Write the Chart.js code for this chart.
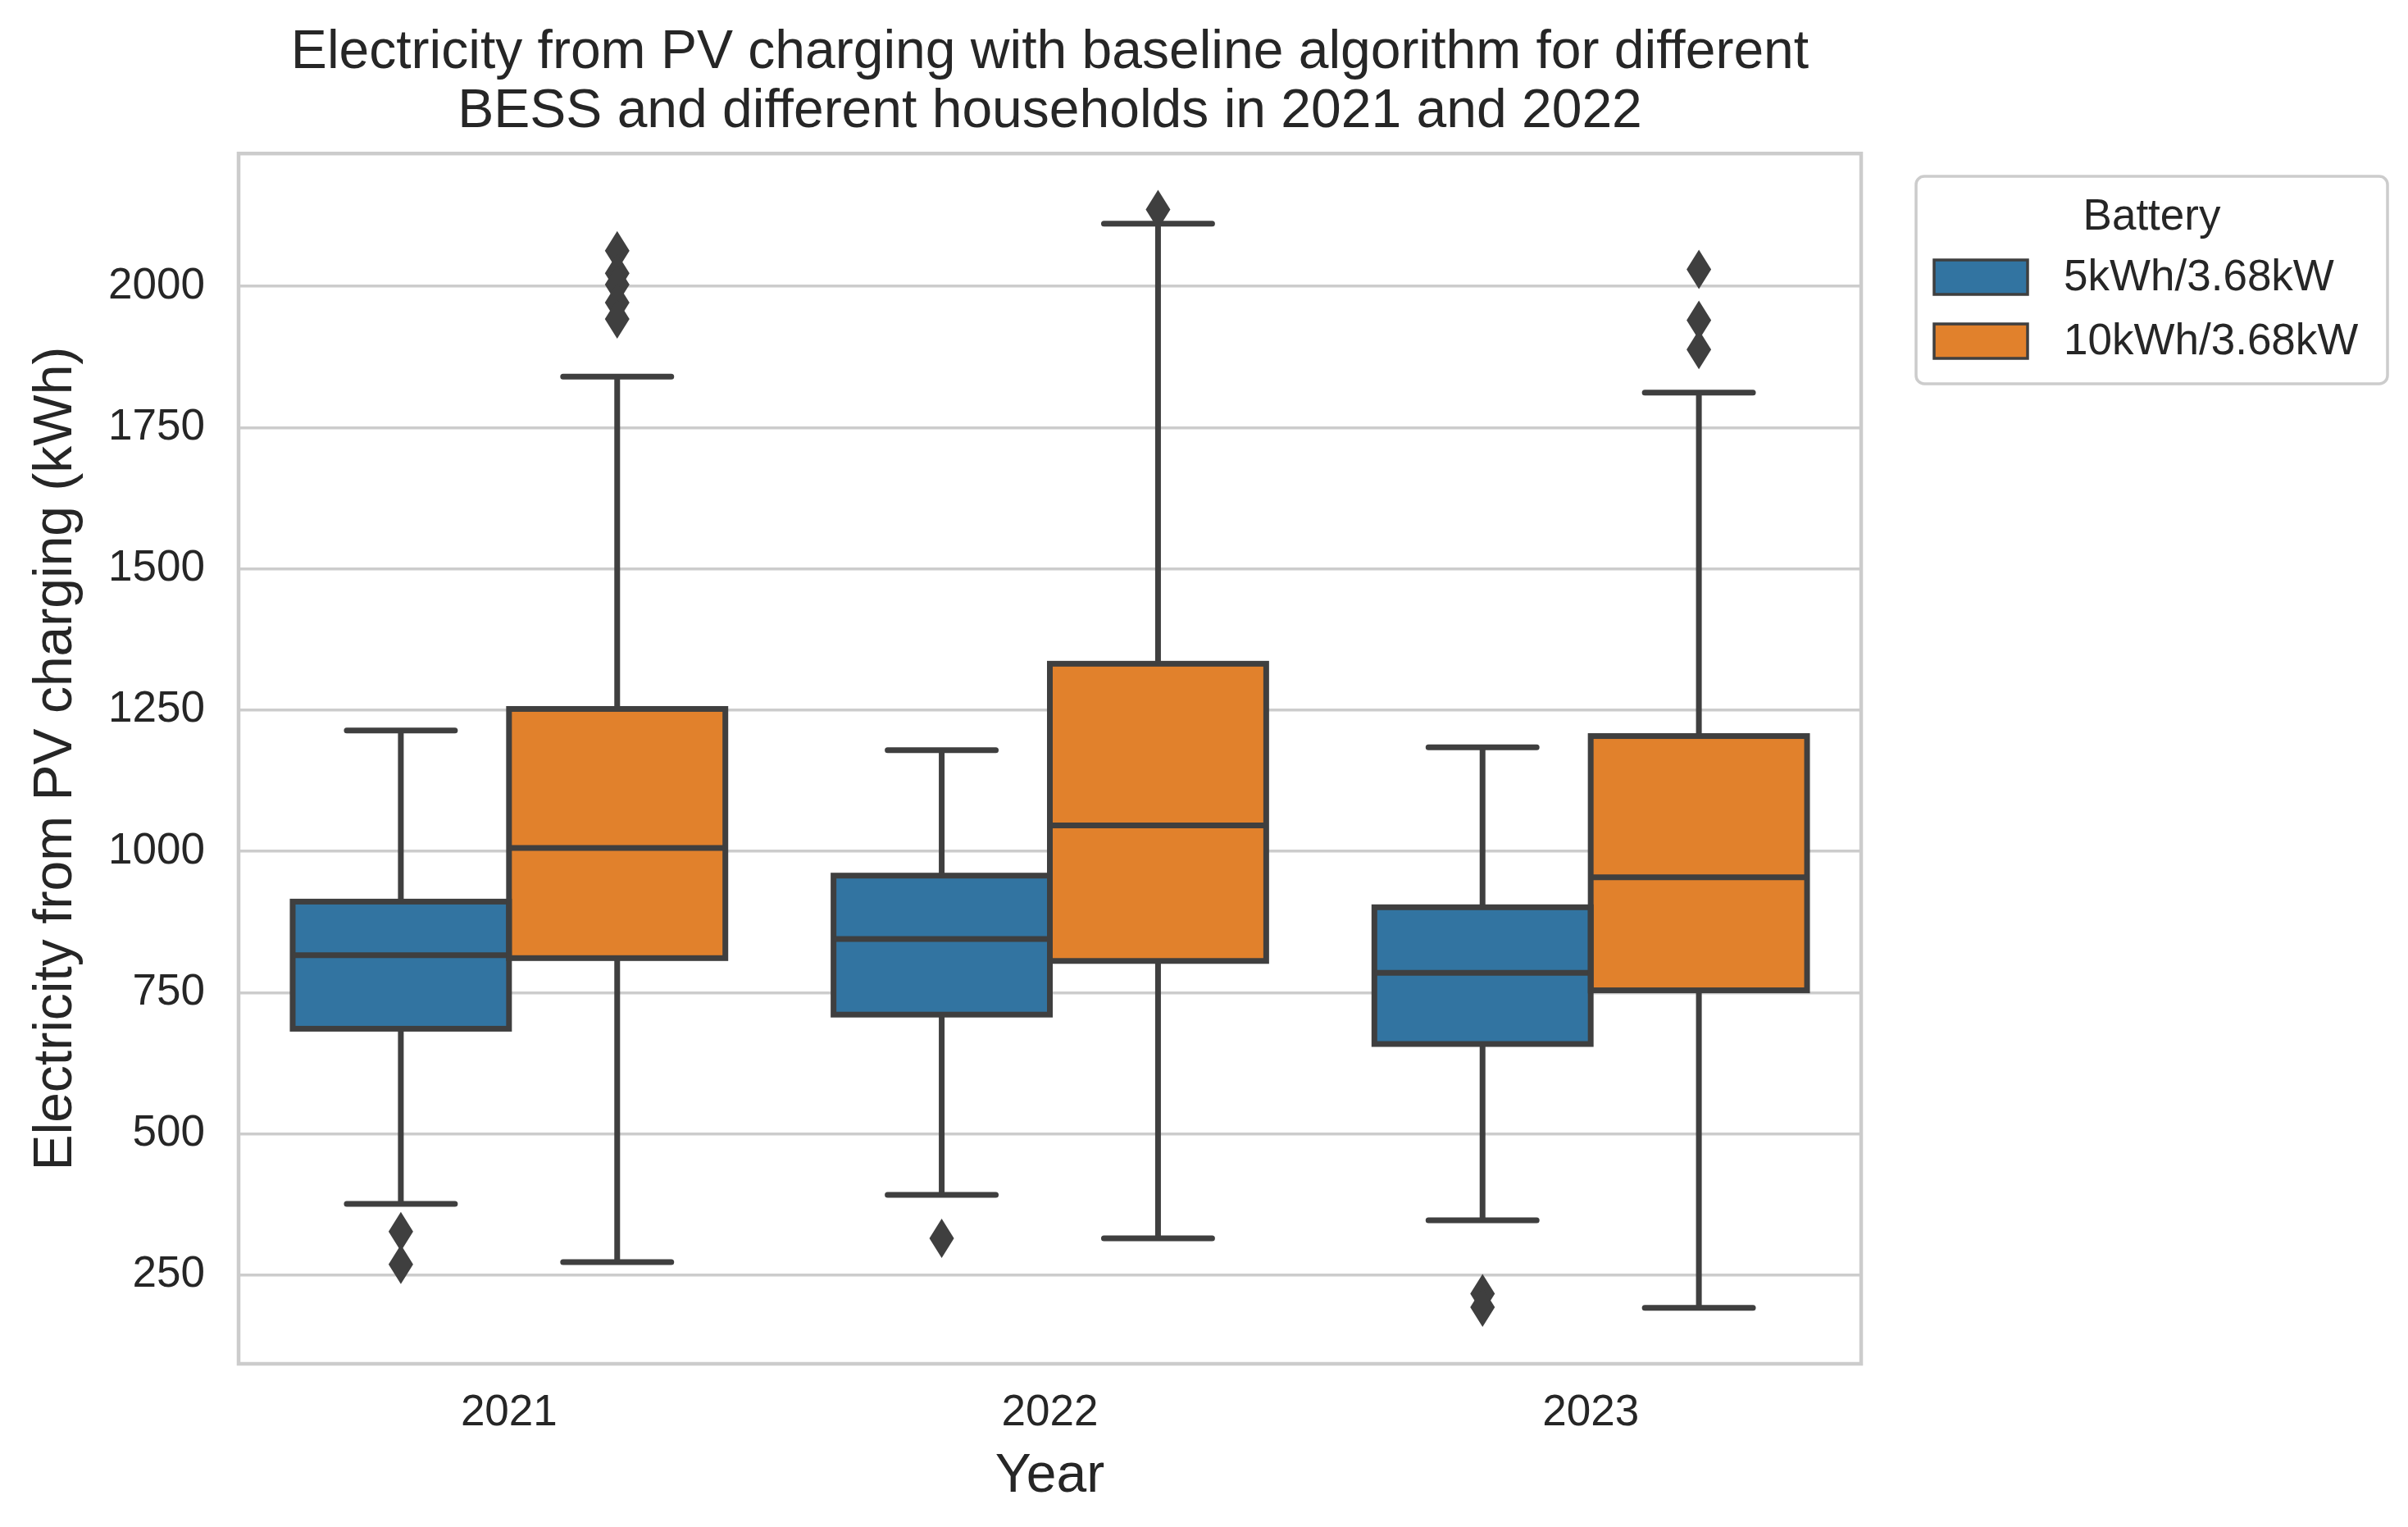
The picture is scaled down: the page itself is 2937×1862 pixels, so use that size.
<!DOCTYPE html>
<html>
<head>
<meta charset="utf-8">
<script src="https://cdn.jsdelivr.net/npm/chart.js@4.4.1/dist/chart.umd.min.js"></script>
<style>
  html, body { margin: 0; padding: 0; background: #ffffff; }
  #wrap { width: 2937px; height: 1862px; }
</style>
</head>
<body>
<div id="wrap"><canvas id="cv" width="2937" height="1862"></canvas></div>
<script>

const years = ["2021", "2022", "2023"];
const batteries = ["5kWh/3.68kW", "10kWh/3.68kW"];

// 5kWh/3.68kW
const small_lo = [376, 392, 347];
const small_q1 = [686, 711, 659];
const small_med = [816, 845, 785];
const small_q3 = [911, 957, 901];
const small_hi = [1214, 1179, 1184];
const small_out = [[327, 269], [315], [217, 193]];

// 10kWh/3.68kW
const big_lo = [273, 315, 192];
const big_q1 = [811, 806, 754];
const big_med = [1006, 1046, 954];
const big_q3 = [1252, 1332, 1204];
const big_hi = [1840, 2111, 1812];
const big_out = [[2063, 2023, 2003, 1971, 1942], [2136], [2030, 1940, 1888]];

const yTicks = [250, 500, 750, 1000, 1250, 1500, 1750, 2000];

const colors = ["#3274a1", "#e1812c"];
const edge = "#3f3f3f";
const textColor = "#262626";
const gridColor = "#cccccc";

const stats = [
    { lo: small_lo, q1: small_q1, med: small_med, q3: small_q3, hi: small_hi, out: small_out },
    { lo: big_lo, q1: big_q1, med: big_med, q3: big_q3, hi: big_hi, out: big_out }
];

function boxes(s) {
    return s.q1.map((v, i) => [v, s.q3[i]]);
}

const boxPlugin = {
    id: "boxparts",
    beforeDatasetsDraw(chart) {
        // whiskers and caps, under the boxes
        const ctx = chart.ctx;
        const y = chart.scales.y;
        ctx.save();
        ctx.strokeStyle = edge;
        ctx.lineWidth = 7;
        ctx.lineCap = "round";
        stats.forEach((s, d) => {
            chart.getDatasetMeta(d).data.forEach((bar, i) => {
                const x = bar.x;
                const half = bar.width / 4;
                ctx.beginPath();
                ctx.moveTo(x, y.getPixelForValue(s.lo[i]));
                ctx.lineTo(x, y.getPixelForValue(s.q1[i]));
                ctx.moveTo(x, y.getPixelForValue(s.q3[i]));
                ctx.lineTo(x, y.getPixelForValue(s.hi[i]));
                ctx.moveTo(x - half, y.getPixelForValue(s.lo[i]));
                ctx.lineTo(x + half, y.getPixelForValue(s.lo[i]));
                ctx.moveTo(x - half, y.getPixelForValue(s.hi[i]));
                ctx.lineTo(x + half, y.getPixelForValue(s.hi[i]));
                ctx.stroke();
            });
        });
        ctx.restore();
    },
    afterDatasetsDraw(chart) {
        // box outlines, medians and outliers
        const ctx = chart.ctx;
        const y = chart.scales.y;
        ctx.save();
        ctx.strokeStyle = edge;
        ctx.fillStyle = edge;
        ctx.lineWidth = 7;
        stats.forEach((s, d) => {
            chart.getDatasetMeta(d).data.forEach((bar, i) => {
                const x = bar.x;
                const w = bar.width / 2;
                const yt = y.getPixelForValue(s.q3[i]);
                const yb = y.getPixelForValue(s.q1[i]);
                ctx.strokeRect(x - w, yt, 2 * w, yb - yt);
                const ym = y.getPixelForValue(s.med[i]);
                ctx.beginPath();
                ctx.moveTo(x - w, ym);
                ctx.lineTo(x + w, ym);
                ctx.stroke();
                s.out[i].forEach(v => {
                    const yp = y.getPixelForValue(v);
                    ctx.beginPath();
                    ctx.moveTo(x, yp - 24);
                    ctx.lineTo(x + 15, yp);
                    ctx.lineTo(x, yp + 24);
                    ctx.lineTo(x - 15, yp);
                    ctx.closePath();
                    ctx.fill();
                });
            });
        });
        ctx.restore();
    },
    afterDraw(chart) {
        const ctx = chart.ctx;
        const a = chart.chartArea;
        ctx.save();
        // frame round the plot
        ctx.strokeStyle = gridColor;
        ctx.lineWidth = 4.5;
        ctx.strokeRect(a.left, a.top, a.right - a.left, a.bottom - a.top);

        // legend
        const lx = 2337, ly = 215, lw = 575, lh = 253;
        ctx.lineWidth = 3.5;
        ctx.beginPath();
        ctx.roundRect(lx, ly, lw, lh, 10);
        ctx.fillStyle = "#ffffff";
        ctx.fill();
        ctx.stroke();

        ctx.fillStyle = textColor;
        ctx.font = "53px 'Liberation Sans', Arial, sans-serif";
        ctx.textAlign = "center";
        ctx.textBaseline = "alphabetic";
        ctx.fillText("Battery", lx + lw / 2, 280);

        ctx.textAlign = "left";
        ctx.textBaseline = "middle";
        chart.data.datasets.forEach((ds, d) => {
            const cy = 338 + d * 78;
            ctx.fillStyle = ds.backgroundColor;
            ctx.fillRect(2359, cy - 21, 114, 42);
            ctx.strokeStyle = edge;
            ctx.lineWidth = 3.5;
            ctx.strokeRect(2359, cy - 21, 114, 42);
            ctx.fillStyle = textColor;
            ctx.fillText(ds.label, 2517, cy + 1);
        });
        ctx.restore();
    }
};

Chart.defaults.font.family = "'Liberation Sans', Arial, sans-serif";
Chart.defaults.color = textColor;

new Chart(document.getElementById("cv"), {
    type: "bar",
    data: {
        labels: years,
        datasets: stats.map((s, d) => ({
            label: batteries[d],
            data: boxes(s),
            backgroundColor: colors[d],
            borderWidth: 0,
            categoryPercentage: 0.8,
            barPercentage: 1.0
        }))
    },
    options: {
        responsive: false,
        devicePixelRatio: 1,
        animation: false,
        layout: { padding: { left: 0, right: 667, top: 0, bottom: 0 } },
        plugins: {
            legend: { display: false },
            tooltip: { enabled: false },
            title: {
                display: true,
                fullSize: false,
                text: ["Electricity from PV charging with baseline algorithm for different",
                       "BESS and different households in 2021 and 2022"],
                color: textColor,
                font: { size: 66, weight: "normal", lineHeight: 1.1 },
                padding: { top: 28, bottom: 14 }
            }
        },
        scales: {
            x: {
                type: "category",
                grid: { display: false, drawTicks: false },
                border: { display: false },
                ticks: { font: { size: 53 }, padding: 29, color: textColor },
                title: {
                    display: true,
                    text: "Year",
                    color: textColor,
                    font: { size: 66 },
                    padding: { top: 0, bottom: 22 }
                },
                afterFit(scale) { scale.height = 199; }
            },
            y: {
                min: 93,
                max: 2235,
                grid: { color: gridColor, lineWidth: 3.5, drawTicks: false },
                border: { display: false },
                afterBuildTicks(scale) { scale.ticks = yTicks.map(v => ({ value: v })); },
                ticks: {
                    font: { size: 53 },
                    padding: 41,
                    color: textColor,
                    callback: (v) => String(v)
                },
                title: {
                    display: true,
                    text: "Electricity from PV charging (kWh)",
                    color: textColor,
                    font: { size: 66 },
                    padding: { top: 29, bottom: 0 }
                },
                afterFit(scale) { scale.width = 291; }
            }
        }
    },
    plugins: [boxPlugin]
});
</script>
</body>
</html>
